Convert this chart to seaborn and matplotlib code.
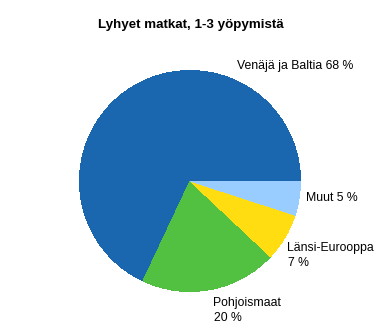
import matplotlib
matplotlib.use("Agg")
import matplotlib.pyplot as plt
import seaborn as sns

categories = ["Venäjä ja Baltia", "Pohjoismaat", "Länsi-Eurooppa", "Muut"]
shares = [68, 20, 7, 5]
label_lines = [["Venäjä ja Baltia 68 %"], ["Pohjoismaat", "20 %"],
               ["Länsi-Eurooppa", "7 %"], ["Muut 5 %"]]
colors = ["#1a67b0", "#52c041", "#ffdd11", "#99ccff"]
title = "Lyhyet matkat, 1-3 yöpymistä"

sns.set_theme(style="white")
plt.rcParams["font.family"] = ["Liberation Sans", "DejaVu Sans"]

W, H = 386, 333
fig = plt.figure(figsize=(W / 100, H / 100), dpi=100)
ax = fig.add_axes([0, 0, 1, 1])

cx, cy, r = 190, 181, 110.5
ax.pie(shares, colors=colors, startangle=0, counterclock=True,
       wedgeprops=dict(linewidth=0, antialiased=False))
ax.set_xlim(-cx / r, (W - cx) / r)
ax.set_ylim(-(H - cy) / r, cy / r)
ax.set_aspect("auto")
ax.axis("off")

# label positions in pixel coordinates (left x, first baseline y)
label_pos = [(237, 69.5), (213.5, 305.7), (287.5, 250.7), (306.5, 200.7)]
line_step = 15.2
for lines, (px, py) in zip(label_lines, label_pos):
    for i, line in enumerate(lines):
        fig.text(px / W, 1 - (py + i * line_step) / H, line, ha="left",
                 va="baseline", fontsize=8.8, color="black")

fig.text(191 / W, 1 - 28 / H, title, ha="center", va="baseline",
         fontsize=9.6, fontweight="bold", color="black")

fig.savefig("out.png", dpi=100)
